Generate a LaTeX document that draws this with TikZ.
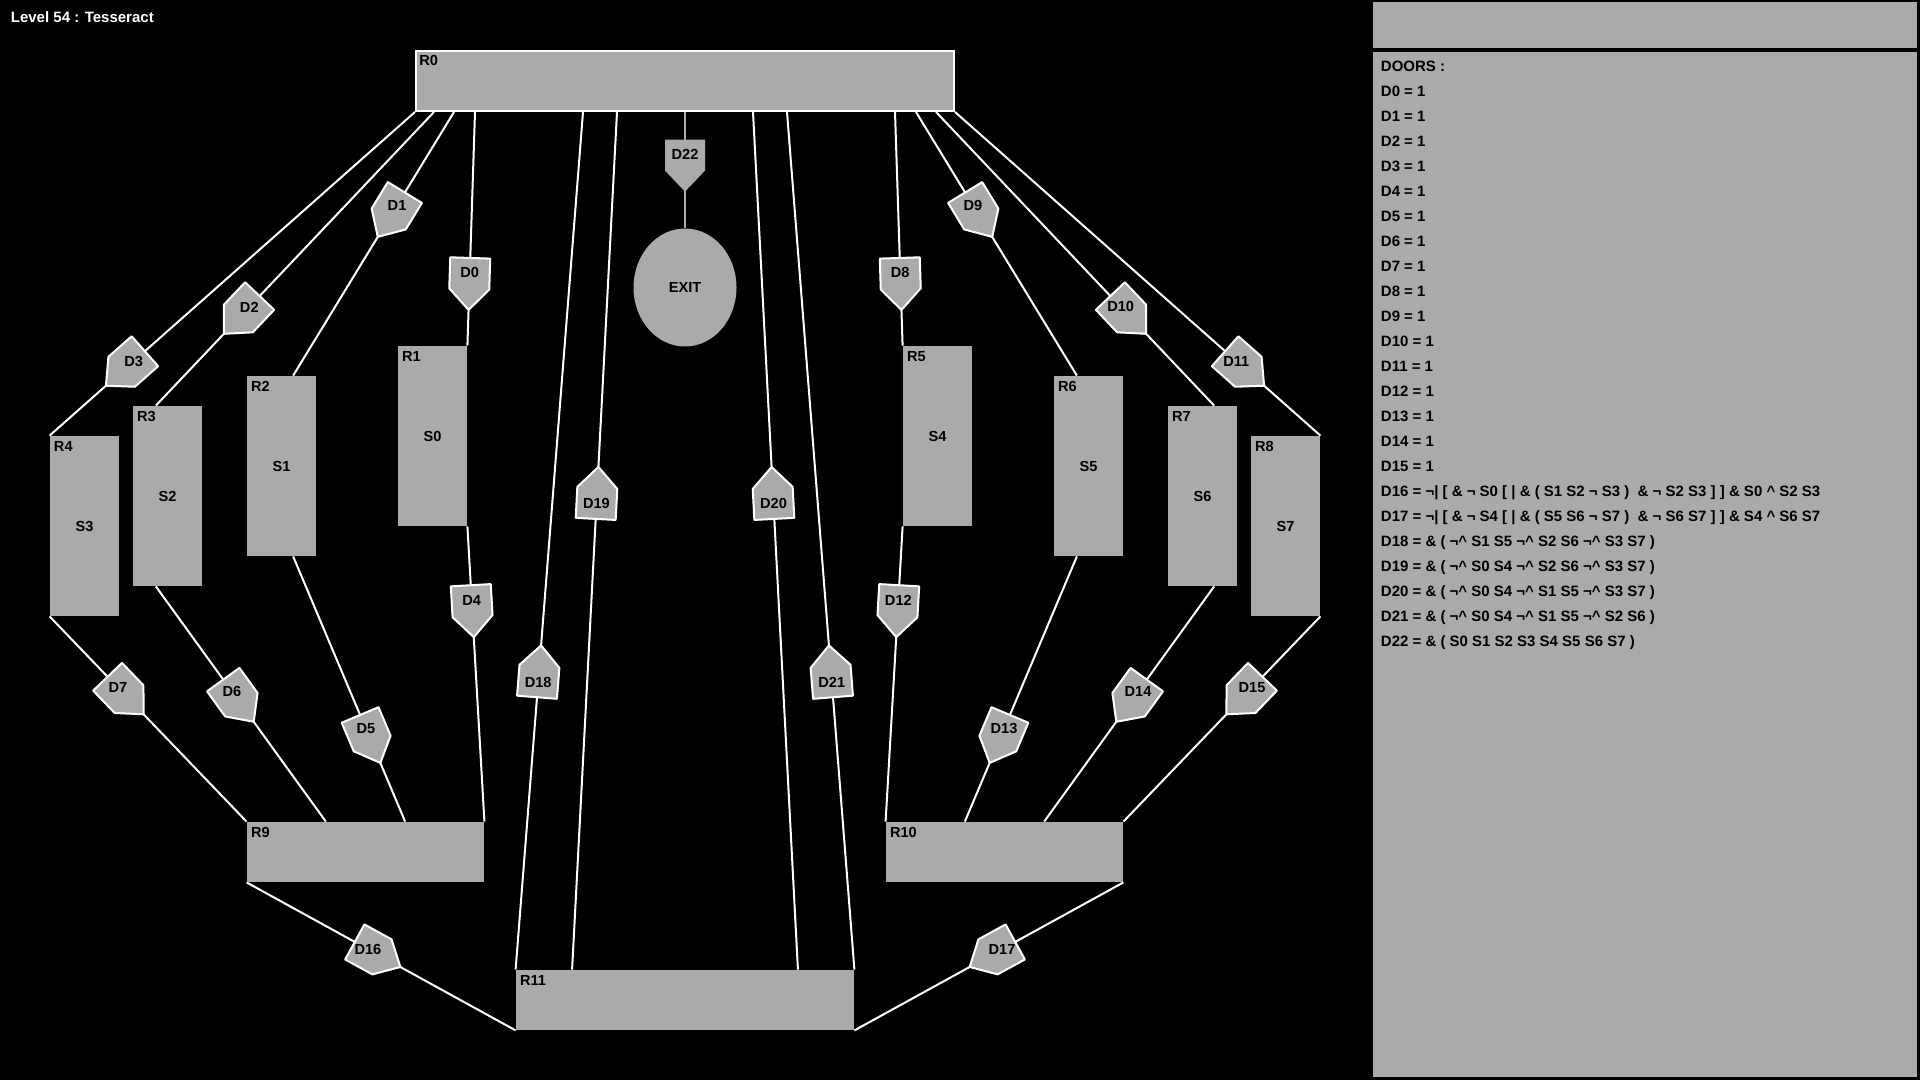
\documentclass[tikz,border=0pt]{standalone}
\usepackage{fontspec}
\setmainfont{Liberation Sans}
\usetikzlibrary{calc,positioning,shapes.geometric}

\definecolor{roomgray}{RGB}{170,170,170}
\newcommand{\lbl}{\bfseries\fontsize{7.3}{8.5}\selectfont}
\newcommand{\txt}{\bfseries\fontsize{7.5}{9}\selectfont}

% door on a link: name, from, to, position along the link, link style
\newcommand{\door}[5]{%
    \coordinate (#1s) at (#2);
    \coordinate (#1t) at (#3);
    \coordinate (#1)  at ($(#1s)!#4!(#1t)$);
    \coordinate (#1b) at ($(#1)!7.5pt!(#1s)$);
    \coordinate (#1f) at ($(#1)!8pt!(#1t)$);
    \draw[#5] (#1s) -- (#1t);
    \path[#5 door]
        ($(#1b)!10pt!90:(#1t)$)
        -- ($(#1f)!10pt!90:(#1t)$)
        -- ($(#1)!18.5pt!(#1t)$)
        -- ($(#1f)!10pt!-90:(#1t)$)
        -- ($(#1b)!10pt!-90:(#1t)$)
        -- cycle;
    \node[tag] (#1l) at (#1) {#1};
}

\begin{document}
\begin{tikzpicture}[
    x=0.5pt,
    y=-0.5pt,
    room/.style={rectangle,fill=roomgray,inner sep=0pt,
        minimum width=34.5pt,minimum height=90pt,font=\lbl},
    hall/.style={room,minimum height=30pt},
    tag/.style={font=\lbl,inner sep=0pt},
    entry/.style={anchor=base west,font=\txt,inner sep=0pt},
    link/.style={draw=white,line width=1pt},
    blocked/.style={draw=roomgray,line width=1pt},
    link door/.style={fill=roomgray,draw=white,line width=1pt,line join=round},
    blocked door/.style={fill=roomgray},
    exit/.style={ellipse,fill=roomgray,inner sep=0pt,
        minimum width=51.5pt,minimum height=59pt,font=\lbl}
]

% ---------------------------------------------------------
% Background and title
% ---------------------------------------------------------

\path[fill=black,use as bounding box]
    (0,0) rectangle (1920,1080);

\node[entry,text=white] (level) at (10.5,22.3)
    {Level 54 : Tesseract};

% ---------------------------------------------------------
% Rooms
% ---------------------------------------------------------

\node[hall,draw=white,line width=1pt,minimum width=269pt]
    (R0) at (685,81) {};

\node[room] (R1) at (432.5,436) {S0};
\node[room] (R2) at (281.5,466) {S1};
\node[room] (R3) at (167.5,496) {S2};
\node[room] (R4) at (84.5,526) {S3};

\node[room] (R5) at (937.5,436) {S4};
\node[room] (R6) at (1088.5,466) {S5};
\node[room] (R7) at (1202.5,496) {S6};
\node[room] (R8) at (1285.5,526) {S7};

\node[hall,minimum width=118.5pt] (R9) at (365.5,852) {};
\node[hall,minimum width=118.5pt] (R10) at (1004.5,852) {};
\node[hall,minimum width=169pt] (R11) at (685,1000) {};

\node[exit] (EXIT) at (685,287.5) {EXIT};

% ---------------------------------------------------------
% Links and doors
% ---------------------------------------------------------

% R0 towards the upper rooms
\door{D0}{$(R0.south)+(-210,0)$}{R1.north east}{0.689}{link}
\door{D1}{$(R0.south)+(-231,0)$}{$(R2.north west)!0.6667!(R2.north east)$}{0.354}{link}
\door{D2}{$(R0.south)+(-251,0)$}{$(R3.north west)!0.3333!(R3.north east)$}{0.664}{link}
\door{D3}{R0.south west}{R4.north west}{0.77}{link}

\door{D8}{$(R0.south)+(210,0)$}{R5.north west}{0.689}{link}
\door{D9}{$(R0.south)+(231,0)$}{$(R6.north west)!0.3333!(R6.north east)$}{0.354}{link}
\door{D10}{$(R0.south)+(251,0)$}{$(R7.north west)!0.6667!(R7.north east)$}{0.664}{link}
\door{D11}{R0.south east}{R8.north east}{0.77}{link}

% upper rooms towards R9 and R10
\door{D4}{R1.south east}{R9.north east}{0.25}{link}
\door{D5}{$(R2.south west)!0.6667!(R2.south east)$}{$(R9.north west)!0.6667!(R9.north east)$}{0.65}{link}
\door{D6}{$(R3.south west)!0.3333!(R3.south east)$}{$(R9.north west)!0.3333!(R9.north east)$}{0.448}{link}
\door{D7}{R4.south west}{R9.north west}{0.347}{link}

\door{D12}{R5.south west}{R10.north west}{0.25}{link}
\door{D13}{$(R6.south west)!0.3333!(R6.south east)$}{$(R10.north west)!0.3333!(R10.north east)$}{0.65}{link}
\door{D14}{$(R7.south west)!0.6667!(R7.south east)$}{$(R10.north west)!0.6667!(R10.north east)$}{0.448}{link}
\door{D15}{R8.south east}{R10.north east}{0.347}{link}

% R9 and R10 towards R11
\door{D16}{R9.south west}{R11.south west}{0.451}{link}
\door{D17}{R10.south east}{R11.south east}{0.451}{link}

% R11 back to R0
\door{D18}{R11.north west}{$(R0.south)+(-102,0)$}{0.335}{link}
\door{D19}{$(R11.north west)!0.1667!(R11.north east)$}{$(R0.south)+(-68,0)$}{0.543}{link}
\door{D20}{$(R11.north west)!0.8333!(R11.north east)$}{$(R0.south)+(68,0)$}{0.543}{link}
\door{D21}{R11.north east}{$(R0.south)+(102,0)$}{0.335}{link}

% R0 towards the exit
\door{D22}{R0.south}{EXIT.north}{0.367}{blocked}

% ---------------------------------------------------------
% Room tags
% ---------------------------------------------------------

\foreach \r in {0,...,11}
    \node[tag,anchor=base west] (R\r tag)
        at ($(R\r.north west)+(4,15.5)$) {R\r};

% ---------------------------------------------------------
% Door panel
% ---------------------------------------------------------

\fill[roomgray] (1373,2) rectangle (1917,48);
\fill[roomgray] (1373,52) rectangle (1917,1077);

\node[entry] (doors) at (1380.5,71.7) {DOORS :};

\foreach \k in {0,...,15}
    \node[entry] (val\k) at (1380.5,{96.7+25*\k}) {D\k{} = 1};

\node[entry] (val16) at (1380.5,496.7)
    {D16 = ¬| [ \& ¬ S0 [ | \& ( S1 S2 ¬ S3 )\ \ \& ¬ S2 S3 ] ] \& S0 \textasciicircum{} S2 S3};
\node[entry] (val17) at (1380.5,521.7)
    {D17 = ¬| [ \& ¬ S4 [ | \& ( S5 S6 ¬ S7 )\ \ \& ¬ S6 S7 ] ] \& S4 \textasciicircum{} S6 S7};
\node[entry] (val18) at (1380.5,546.7)
    {D18 = \& ( ¬\textasciicircum{} S1 S5 ¬\textasciicircum{} S2 S6 ¬\textasciicircum{} S3 S7 )};
\node[entry] (val19) at (1380.5,571.7)
    {D19 = \& ( ¬\textasciicircum{} S0 S4 ¬\textasciicircum{} S2 S6 ¬\textasciicircum{} S3 S7 )};
\node[entry] (val20) at (1380.5,596.7)
    {D20 = \& ( ¬\textasciicircum{} S0 S4 ¬\textasciicircum{} S1 S5 ¬\textasciicircum{} S3 S7 )};
\node[entry] (val21) at (1380.5,621.7)
    {D21 = \& ( ¬\textasciicircum{} S0 S4 ¬\textasciicircum{} S1 S5 ¬\textasciicircum{} S2 S6 )};
\node[entry] (val22) at (1380.5,646.7)
    {D22 = \& ( S0 S1 S2 S3 S4 S5 S6 S7 )};

\end{tikzpicture}
\end{document}
